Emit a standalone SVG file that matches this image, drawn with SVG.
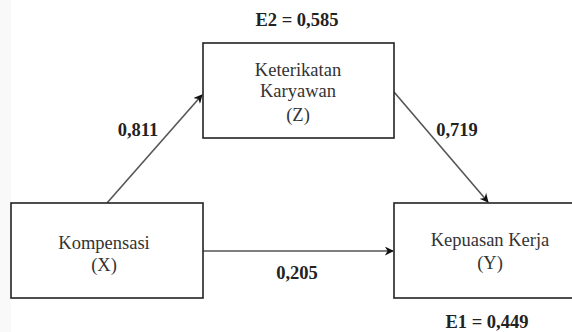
<svg xmlns="http://www.w3.org/2000/svg" width="572" height="332" viewBox="0 0 572 332">
<style>
.box{fill:#fff;stroke:#222;stroke-width:1.6}
.t{font-family:'Liberation Serif','Times New Roman',serif;font-size:18.5px;fill:#333;text-anchor:middle}
.b{font-family:'Liberation Serif','Times New Roman',serif;font-size:18.5px;font-weight:bold;fill:#222;text-anchor:middle}
.c{stroke:#555;stroke-width:1.6;fill:none}
</style>
<defs>
<marker id="ah" viewBox="0 0 10 10" refX="9" refY="5" markerWidth="9" markerHeight="9" markerUnits="userSpaceOnUse" orient="auto">
<path d="M0,0 L10,5 L0,10 L3,5 Z" fill="#111"/>
</marker>
</defs>
<rect x="0" y="0" width="572" height="332" fill="#fff"/>
<rect x="0" y="0" width="11" height="332" fill="#f9f9f9"/>
<g id="connectors">
<line class="c" x1="107" y1="203" x2="202" y2="95" marker-end="url(#ah)"/>
<line class="c" x1="394" y1="92" x2="488" y2="202" marker-end="url(#ah)"/>
<line class="c" x1="203" y1="251" x2="393" y2="251" marker-end="url(#ah)"/>
<text class="b" x="138" y="136">0,811</text>
<text class="b" x="457" y="136">0,719</text>
<text class="b" x="297" y="279">0,205</text>
</g>
<g id="Z">
<rect class="box" x="203" y="43" width="191" height="95"/>
<text class="t" x="298" y="76">Keterikatan</text>
<text class="t" x="298" y="97">Karyawan</text>
<text class="t" x="298" y="121">(Z)</text>
</g>
<g id="X">
<rect class="box" x="11" y="203" width="192" height="95"/>
<text class="t" x="104" y="249">Kompensasi</text>
<text class="t" x="104" y="271">(X)</text>
</g>
<g id="Y">
<rect class="box" x="394" y="203" width="190" height="95"/>
<text class="t" x="490" y="246">Kepuasan Kerja</text>
<text class="t" x="490" y="269">(Y)</text>
</g>
<g id="E2"><text class="b" x="297" y="26">E2 = 0,585</text></g>
<g id="E1"><text class="b" x="487" y="328">E1 = 0,449</text></g>
</svg>
